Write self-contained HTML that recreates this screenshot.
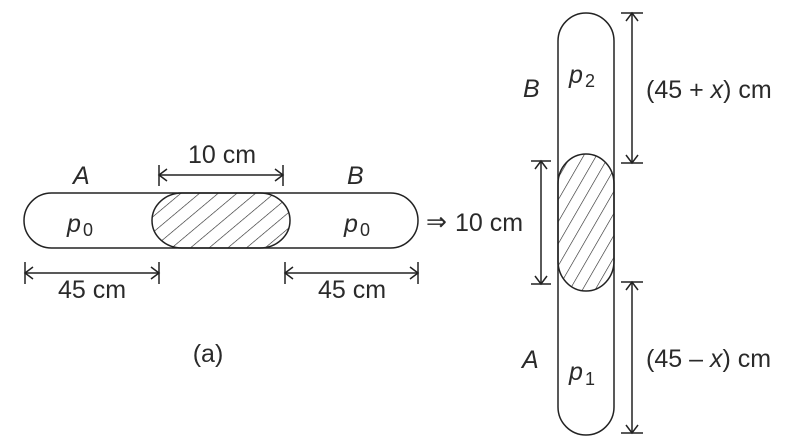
<!DOCTYPE html>
<html><head><style>
html,body{margin:0;padding:0;background:#fff;}
svg{display:block;}
text{font-family:"Liberation Sans",sans-serif;fill:#2a2a2a;font-size:25px;}
.i{font-style:italic;}
.s{font-size:18px;}
</style></head><body>
<svg width="789" height="442" viewBox="0 0 789 442" xmlns="http://www.w3.org/2000/svg">
<defs>
<pattern id="h" width="12" height="12" patternUnits="userSpaceOnUse" patternTransform="rotate(50)">
<line x1="0" y1="0" x2="0" y2="12" stroke="#222" stroke-width="1.2"/>
</pattern>
<pattern id="h2" width="11" height="11" patternUnits="userSpaceOnUse" patternTransform="rotate(30)">
<line x1="0" y1="0" x2="0" y2="11" stroke="#222" stroke-width="1.2"/>
</pattern>
</defs>
<g fill="none" stroke="#222" stroke-width="1.5">
<rect x="24" y="193" width="394" height="55" rx="27.5" ry="27.5"/>
<rect x="152" y="193" width="138" height="55" rx="30" ry="27.5" fill="url(#h)"/>
<line x1="159" y1="175" x2="283" y2="175"/>
<line x1="159" y1="165" x2="159" y2="186"/><line x1="283" y1="165" x2="283" y2="186"/>
<polyline points="167,169 159,175 167,181"/><polyline points="275,169 283,175 275,181"/>
<line x1="25" y1="273" x2="159" y2="273"/>
<line x1="25" y1="262" x2="25" y2="284"/><line x1="159" y1="262" x2="159" y2="284"/>
<polyline points="33,267 25,273 33,279"/><polyline points="151,267 159,273 151,279"/>
<line x1="285" y1="273" x2="418" y2="273"/>
<line x1="285" y1="262" x2="285" y2="284"/><line x1="418" y1="262" x2="418" y2="284"/>
<polyline points="293,267 285,273 293,279"/><polyline points="410,267 418,273 410,279"/>
<rect x="558" y="13" width="56" height="422" rx="28" ry="28"/>
<rect x="558" y="154" width="56" height="137" rx="28" ry="30" fill="url(#h2)"/>
<line x1="632" y1="13" x2="632" y2="163"/>
<line x1="621" y1="13" x2="643" y2="13"/><line x1="621" y1="163" x2="643" y2="163"/>
<polyline points="626,21 632,13 638,21"/><polyline points="626,155 632,163 638,155"/>
<line x1="632" y1="282" x2="632" y2="433"/>
<line x1="621" y1="282" x2="643" y2="282"/><line x1="621" y1="433" x2="643" y2="433"/>
<polyline points="626,290 632,282 638,290"/><polyline points="626,425 632,433 638,425"/>
<line x1="541" y1="161" x2="541" y2="284"/>
<line x1="531" y1="161" x2="551" y2="161"/><line x1="531" y1="284" x2="551" y2="284"/>
<polyline points="535,169 541,161 547,169"/><polyline points="535,276 541,284 547,276"/>
</g>
<text x="222" y="163" text-anchor="middle">10 cm</text>
<text x="73" y="184" class="i">A</text>
<text x="347" y="184" class="i">B</text>
<text x="67" y="232" class="i" font-size="28">p</text><text x="83" y="236" class="s">0</text>
<text x="344" y="232" class="i" font-size="28">p</text><text x="360" y="236" class="s">0</text>
<text x="92" y="298" text-anchor="middle">45 cm</text>
<text x="352" y="298" text-anchor="middle">45 cm</text>
<text x="426" y="230">⇒</text>
<text x="455" y="231">10 cm</text>
<text x="208" y="362" text-anchor="middle">(a)</text>
<text x="523" y="97" class="i">B</text>
<text x="522" y="368" class="i">A</text>
<text x="569" y="83" class="i" font-size="28">p</text><text x="585" y="87" class="s">2</text>
<text x="569" y="380" class="i" font-size="28">p</text><text x="585" y="385" class="s">1</text>
<text x="646" y="98">(45 + <tspan class="i">x</tspan>) cm</text>
<text x="646" y="367">(45 – <tspan class="i">x</tspan>) cm</text>
</svg>
</body></html>
